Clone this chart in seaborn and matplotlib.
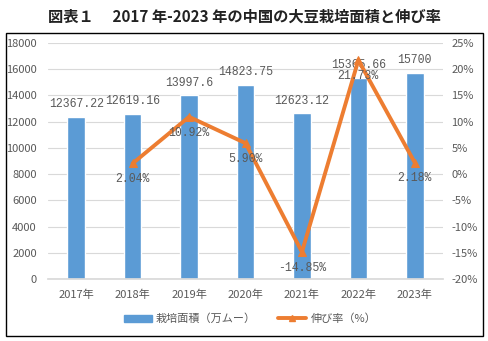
import matplotlib
matplotlib.use("Agg")
import matplotlib.pyplot as plt
import seaborn as sns
import numpy as np
import pandas as pd
from matplotlib.patches import Rectangle
from matplotlib.lines import Line2D

years = ["2017年", "2018年", "2019年", "2020年", "2021年", "2022年", "2023年"]
area = [12367.22, 12619.16, 13997.6, 14823.75, 12623.12, 15365.66, 15700]
area_labels = ["12367.22", "12619.16", "13997.6", "14823.75", "12623.12", "15365.66", "15700"]
growth_years = ["2018年", "2019年", "2020年", "2021年", "2022年", "2023年"]
growth = [2.04, 10.92, 5.90, -14.85, 21.73, 2.18]
growth_labels = ["2.04%", "10.92%", "5.90%", "-14.85%", "21.73%", "2.18%"]
title = "図表１　 2017 年-2023 年の中国の大豆栽培面積と伸び率"

sns.set_theme(style="white")
plt.rcParams['font.family'] = ['Noto Sans CJK JP', 'DejaVu Sans']

bar_color = "#5B9BD5"
line_color = "#ED7D31"
tick_color = "#595959"

fig = plt.figure(figsize=(4.88, 3.41), dpi=100)
ax = fig.add_axes([48/488, 62/341, 395/488, 236/341])

df = pd.DataFrame({"year": years, "area": area})
sns.barplot(data=df, x="year", y="area", color=bar_color, width=0.31, ax=ax,
            saturation=1, zorder=2)
ax.set_xlim(-0.5, 6.5)
ax.set_ylim(0, 18000)
ax.set_yticks(np.arange(0, 18001, 2000))
ax.yaxis.grid(True, color="#D9D9D9", linewidth=0.8, zorder=0)
ax.set_axisbelow(True)
for s in ax.spines.values():
    s.set_visible(False)
ax.spines['bottom'].set_visible(True)
ax.spines['bottom'].set_color("#D9D9D9")
ax.set_xlabel("")
ax.set_ylabel("")
ax.tick_params(axis='both', length=0, colors=tick_color, labelsize=8)
ax.tick_params(axis='x', pad=8)
ax.tick_params(axis='y', pad=8)

ax2 = ax.twinx()
gdf = pd.DataFrame({"x": [years.index(y) for y in growth_years], "g": growth})
sns.lineplot(data=gdf, x="x", y="g", color=line_color, linewidth=2.8, marker="^",
             markersize=6, markeredgecolor=line_color, ax=ax2)
ax2.set_ylim(-20, 25)
ax2.set_yticks(np.arange(-20, 26, 5))
ax2.set_yticklabels([f"{v}%" for v in range(-20, 26, 5)])
for s in ax2.spines.values():
    s.set_visible(False)
ax2.set_ylabel("")
ax2.set_xlabel("")
ax2.tick_params(axis='both', length=0, colors=tick_color, labelsize=8)
ax2.tick_params(axis='y', pad=6)
ax2.set_xlim(-0.5, 6.5)

mono = ['Liberation Mono', 'DejaVu Sans Mono']
for i, (v, lab) in enumerate(zip(area, area_labels)):
    ax.annotate(lab, (i, v), xytext=(0, 5), textcoords="offset points",
                ha="center", va="bottom", fontsize=8.3, color=tick_color, family=mono)
for y, v, lab in zip(growth_years, growth, growth_labels):
    i = years.index(y)
    ax2.annotate(lab, (i, v), xytext=(0, -7), textcoords="offset points",
                 ha="center", va="top", fontsize=8.3, color=tick_color, family=mono,
                 zorder=5)

handles = [Rectangle((0, 0), 1, 1, color=bar_color),
           Line2D([0], [0], color=line_color, linewidth=2.8, marker="^", markersize=5)]
fig.legend(handles, ["栽培面積（万ムー）", "伸び率（%）"], loc="center",
           bbox_to_anchor=(250/488, 1 - 319/341), ncol=2, frameon=False,
           fontsize=8, labelcolor=tick_color, handlelength=2.5, columnspacing=2.0,
           handletextpad=0.4)

fig.patches.append(Rectangle((6/488, 1 - 336/341), 477/488, 303/341,
                             transform=fig.transFigure, fill=False,
                             edgecolor="black", linewidth=1.0))

fig.text(0.5, 1 - 17/341, title, ha="center", va="center", fontsize=11,
         fontweight="bold", color="#222222")

fig.savefig("out.png", dpi=100)
